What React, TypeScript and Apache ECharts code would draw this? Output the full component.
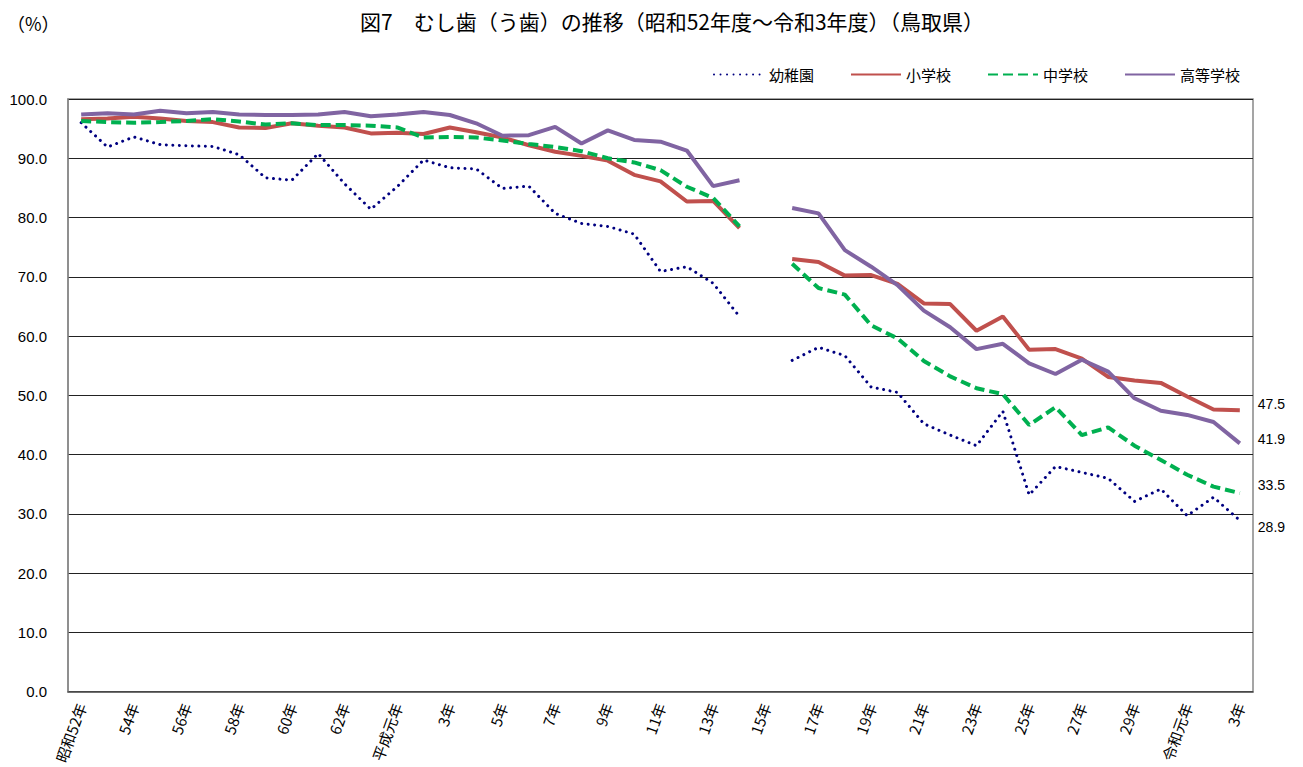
import React, { useEffect, useRef } from "react";
import * as echarts from "echarts";

const years = [
  "昭和52年", "53年", "54年", "55年", "56年", "57年", "58年", "59年", "60年", "61年", "62年", "63年",
  "平成元年", "2年", "3年", "4年", "5年", "6年", "7年", "8年", "9年", "10年", "11年", "12年", "13年", "14年",
  "15年", "16年", "17年", "18年", "19年", "20年", "21年", "22年", "23年", "24年", "25年", "26年", "27年",
  "28年", "29年", "30年", "令和元年", "2年", "3年",
];

const kindergarten = [
  96.0, 91.9, 93.6, 92.3, 92.1, 92.0, 90.6, 86.7, 86.3, 90.8, 85.7, 81.4, 85.2, 89.7, 88.4,
  88.2, 84.9, 85.3, 80.7, 79.0, 78.5, 77.2, 70.9, 71.7, 68.9, 63.3, null,
  55.9, 58.1, 56.7, 51.4, 50.5, 45.2, 43.3, 41.5, 47.3, 33.2, 38.0, 37.0, 36.0, 32.1, 34.2,
  29.7, 32.8, 28.9,
];

const elementary = [
  96.6, 96.7, 97.0, 96.7, 96.3, 96.1, 95.2, 95.1, 95.9, 95.5, 95.2, 94.2, 94.3, 94.1, 95.2,
  94.4, 93.5, 92.2, 91.1, 90.4, 89.6, 87.2, 86.1, 82.7, 82.8, 78.2, null,
  73.0, 72.5, 70.2, 70.3, 68.8, 65.5, 65.4, 60.9, 63.3, 57.7, 57.8, 56.2, 53.1, 52.5, 52.1,
  49.8, 47.6, 47.5,
];

const juniorHigh = [
  96.3, 96.1, 96.0, 96.1, 96.3, 96.6, 96.2, 95.7, 95.9, 95.6, 95.6, 95.5, 95.2, 93.5, 93.6,
  93.5, 93.0, 92.4, 91.9, 91.2, 90.0, 89.3, 88.0, 85.2, 83.3, 78.5, null,
  72.2, 68.1, 67.0, 61.8, 59.6, 55.8, 53.2, 51.2, 50.2, 45.0, 48.0, 43.3, 44.6, 41.5, 39.1,
  36.6, 34.6, 33.5,
];

const highSchool = [
  97.4, 97.6, 97.4, 98.0, 97.6, 97.8, 97.4, 97.3, 97.3, 97.4, 97.8, 97.1, 97.4, 97.8, 97.3,
  95.9, 93.8, 93.9, 95.3, 92.5, 94.7, 93.1, 92.8, 91.3, 85.3, 86.3, null,
  81.6, 80.7, 74.5, 71.7, 68.6, 64.3, 61.5, 57.8, 58.7, 55.4, 53.6, 56.0, 54.0, 49.5, 47.4,
  46.7, 45.5, 41.9,
];

const seriesNames = ["幼稚園", "小学校", "中学校", "高等学校"];

const FONT = "Noto Sans CJK JP, Noto Sans, sans-serif";
const NUM_FONT = "Liberation Sans, Arial, sans-serif";

function endLabel(dy: number) {
  return {
    show: true,
    distance: 18,
    offset: [0, dy],
    formatter: (p: any) => {
      const v = Array.isArray(p.value) ? p.value[p.value.length - 1] : p.value;
      return Number(v).toFixed(1);
    },
    color: "#000",
    fontSize: 14,
    fontFamily: NUM_FONT,
    valueAnimation: false,
  };
}

export default function App() {
  const ref = useRef<HTMLDivElement>(null);
  useEffect(() => {
    if (!ref.current) return;
    const chart = echarts.init(ref.current, null, { renderer: "svg" });
    const option: any = {
      animation: false,
      backgroundColor: "#fff",
      title: [
        {
          text: "図7　むし歯（う歯）の推移（昭和52年度～令和3年度）（鳥取県）",
          left: 355,
          top: 5,
          textStyle: { fontFamily: FONT, fontSize: 21, fontWeight: "normal", color: "#000" },
        },
        {
          text: "（%）",
          left: 2,
          top: 9,
          textStyle: { fontFamily: FONT, fontSize: 18, fontWeight: "normal", color: "#000" },
        },
      ],
      legend: {
        right: 58,
        top: 62,
        itemWidth: 50,
        itemHeight: 12,
        itemGap: 36,
        itemStyle: { opacity: 0 },
        textStyle: { fontFamily: FONT, fontSize: 15, color: "#000" },
        data: seriesNames,
      },
      grid: {
        left: 68,
        right: 50,
        top: 99,
        bottom: 75,
        show: true,
        borderColor: "#888",
        borderWidth: 1.5,
      },
      xAxis: {
        type: "category",
        data: years,
        boundaryGap: true,
        axisLine: { show: true, lineStyle: { color: "#555", width: 1.5 } },
        axisTick: { show: false },
        axisLabel: {
          interval: 1,
          rotate: 70,
          margin: 12,
          fontSize: 15,
          color: "#000",
          fontFamily: FONT,
        },
        splitLine: { show: false },
      },
      yAxis: {
        type: "value",
        min: 0,
        max: 100,
        interval: 10,
        axisLine: { show: true, lineStyle: { color: "#888", width: 1.5 } },
        axisTick: { show: false },
        axisLabel: {
          margin: 21,
          fontSize: 15,
          color: "#000",
          fontFamily: NUM_FONT,
          formatter: (v: number) => v.toFixed(1),
        },
        splitLine: { show: true, lineStyle: { color: "#222", width: 1 } },
      },
      series: [
        {
          name: seriesNames[0],
          type: "line",
          data: kindergarten,
          symbol: "none",
          itemStyle: { color: "#000080" },
          lineStyle: { color: "#000080", width: 3, type: [0.01, 6.5], cap: "round" },
          endLabel: endLabel(7),
          z: 2,
        },
        {
          name: seriesNames[1],
          type: "line",
          data: elementary,
          symbol: "none",
          itemStyle: { color: "#C0504D" },
          lineStyle: { color: "#C0504D", width: 4 },
          endLabel: endLabel(-6),
          z: 3,
        },
        {
          name: seriesNames[2],
          type: "line",
          data: juniorHigh,
          symbol: "none",
          itemStyle: { color: "#00B050" },
          lineStyle: { color: "#00B050", width: 4, type: [10, 5] },
          endLabel: endLabel(-8),
          z: 4,
        },
        {
          name: seriesNames[3],
          type: "line",
          data: highSchool,
          symbol: "none",
          itemStyle: { color: "#8064A2" },
          lineStyle: { color: "#8064A2", width: 4 },
          endLabel: endLabel(-4),
          z: 5,
        },
      ],
    };
    chart.setOption(option);
    return () => chart.dispose();
  }, []);
  return (
    <div
      ref={ref}
      style={{ position: "absolute", left: 0, top: 0, width: 1303, height: 767, background: "#fff" }}
    />
  );
}
